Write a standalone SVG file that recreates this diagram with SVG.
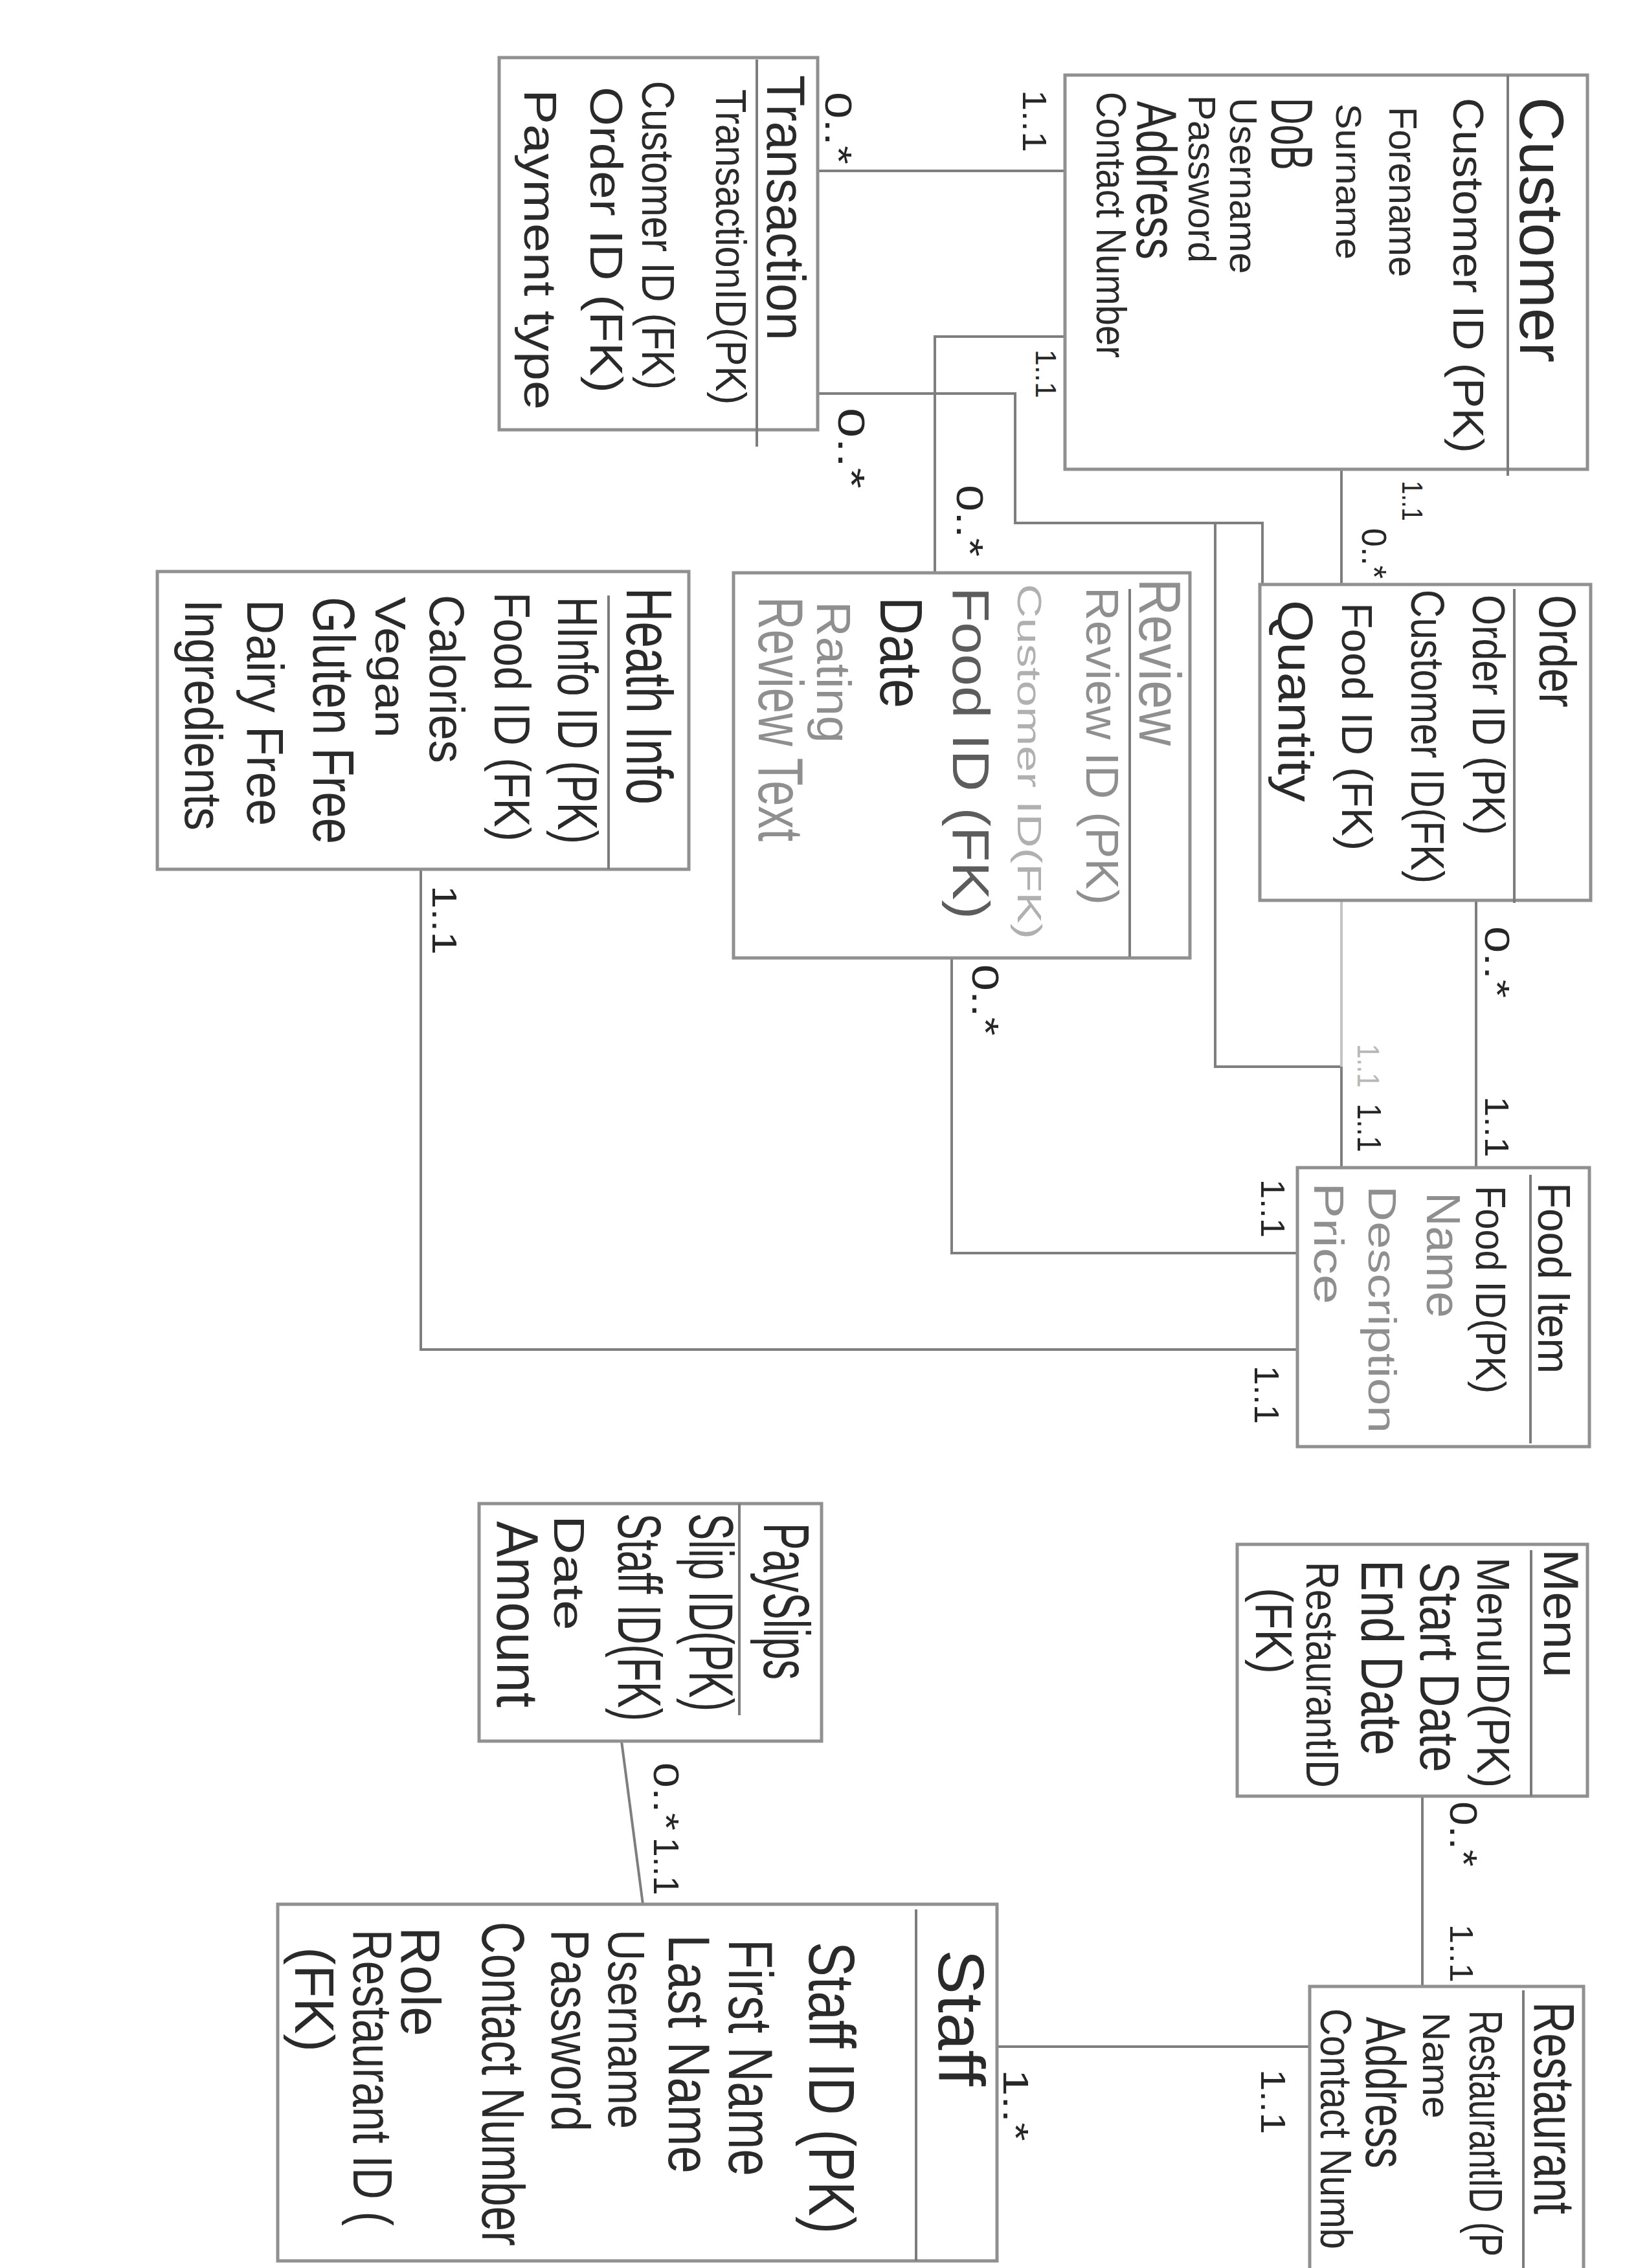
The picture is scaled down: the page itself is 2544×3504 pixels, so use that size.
<svg xmlns="http://www.w3.org/2000/svg" width="2544" height="3504" viewBox="0 0 2544 3504">
<style>
.box{fill:none;stroke:#909090;stroke-width:5}
.dv{fill:none;stroke:#7c7c7c;stroke-width:4}
.t{font-family:'Liberation Sans',Arial,sans-serif;fill:#2a2a2a}
.m{fill:#5c5c5c}
.l{fill:#8f8f8f}
.xl{fill:#b0b0b0}
.conn{fill:none;stroke:#7e7e7e;stroke-width:4}
.faint{stroke:#c4c4c4}
.card{font-family:'Liberation Sans',Arial,sans-serif;fill:#262626}
</style>
<rect width="2544" height="3504" fill="#ffffff"/>

<g id="connectors">
<path class="conn" d="M1263 264 H1645"/>
<path class="conn" d="M1263 608 H1568 V808 H1950 V903"/>
<path class="conn" d="M1877 808 V1648 H2072 V1804"/>
<path class="conn faint" d="M2072 1391 V1648"/>
<path class="conn" d="M1645 520 H1444 V885"/>
<path class="conn" d="M2072 725 V903"/>
<path class="conn" d="M2280 1391 V1804"/>
<path class="conn" d="M1470 1480 V1936 H2004"/>
<path class="conn" d="M650 1343 V2085 H2004"/>
<path class="conn" d="M2197 2775 V3069"/>
<path class="conn" d="M1540 3162 H2023"/>
<path class="conn" d="M960 2690 L993 2942"/>
<g class="card">
<text x="1275" y="142" transform="rotate(90 1275 142)" font-size="58" textLength="112" lengthAdjust="spacingAndGlyphs">0..*</text>
<text x="1580" y="139" transform="rotate(90 1580 139)" font-size="52" textLength="96" lengthAdjust="spacingAndGlyphs">1..1</text>
<text x="1295" y="630" transform="rotate(90 1295 630)" font-size="58" textLength="125" lengthAdjust="spacingAndGlyphs">0..*</text>
<text x="1600" y="540" transform="rotate(90 1600 540)" font-size="44" textLength="75" lengthAdjust="spacingAndGlyphs">1..1</text>
<text x="1478" y="749" transform="rotate(90 1478 749)" font-size="58" textLength="111" lengthAdjust="spacingAndGlyphs">0..*</text>
<text x="2166" y="743" transform="rotate(90 2166 743)" font-size="44" textLength="62" lengthAdjust="spacingAndGlyphs">1..1</text>
<text x="2104" y="816" transform="rotate(90 2104 816)" font-size="54" textLength="78" lengthAdjust="spacingAndGlyphs">0..*</text>
<text x="2294" y="1431" transform="rotate(90 2294 1431)" font-size="54" textLength="111" lengthAdjust="spacingAndGlyphs">0..*</text>
<text x="2294" y="1694" transform="rotate(90 2294 1694)" font-size="52" textLength="94" lengthAdjust="spacingAndGlyphs">1..1</text>
<text x="2097" y="1613" transform="rotate(90 2097 1613)" font-size="48" textLength="67" lengthAdjust="spacingAndGlyphs" fill="#b8b8b8">1..1</text>
<text x="2097" y="1705" transform="rotate(90 2097 1705)" font-size="52" textLength="75" lengthAdjust="spacingAndGlyphs">1..1</text>
<text x="1502" y="1490" transform="rotate(90 1502 1490)" font-size="58" textLength="110" lengthAdjust="spacingAndGlyphs">0..*</text>
<text x="1948" y="1822" transform="rotate(90 1948 1822)" font-size="52" textLength="90" lengthAdjust="spacingAndGlyphs">1..1</text>
<text x="668" y="1368" transform="rotate(90 668 1368)" font-size="54" textLength="107" lengthAdjust="spacingAndGlyphs">1..1</text>
<text x="1938" y="2110" transform="rotate(90 1938 2110)" font-size="54" textLength="90" lengthAdjust="spacingAndGlyphs">1..1</text>
<text x="2240" y="2783" transform="rotate(90 2240 2783)" font-size="60" textLength="101" lengthAdjust="spacingAndGlyphs">0..*</text>
<text x="2240" y="2973" transform="rotate(90 2240 2973)" font-size="50" textLength="90" lengthAdjust="spacingAndGlyphs">1..1</text>
<text x="1550" y="3197" transform="rotate(90 1550 3197)" font-size="56" textLength="111" lengthAdjust="spacingAndGlyphs">1..*</text>
<text x="1948" y="3197" transform="rotate(90 1948 3197)" font-size="54" textLength="100" lengthAdjust="spacingAndGlyphs">1..1</text>
<text x="1010" y="2723" transform="rotate(90 1010 2723)" font-size="56" textLength="105" lengthAdjust="spacingAndGlyphs">0..*</text>
<text x="1010" y="2839" transform="rotate(90 1010 2839)" font-size="56" textLength="89" lengthAdjust="spacingAndGlyphs">1..1</text>
</g>
</g>

<g id="transaction">
<rect class="box" x="771" y="89" width="492" height="575"/>
<line class="dv" x1="1169" y1="92" x2="1169" y2="690"/>
<g class="t">
<text x="1185" y="116" transform="rotate(90 1185 116)" font-size="84" textLength="410" lengthAdjust="spacingAndGlyphs">Transaction</text>
<text x="1106" y="138" transform="rotate(90 1106 138)" font-size="66" textLength="487" lengthAdjust="spacingAndGlyphs">TransactionID(PK)</text>
<text x="992" y="125" transform="rotate(90 992 125)" font-size="70" textLength="477" lengthAdjust="spacingAndGlyphs">Customer ID (FK)</text>
<text x="912" y="134" transform="rotate(90 912 134)" font-size="70" textLength="473" lengthAdjust="spacingAndGlyphs">Order ID (FK)</text>
<text x="810" y="138" transform="rotate(90 810 138)" font-size="70" textLength="495" lengthAdjust="spacingAndGlyphs">Payment type</text>
</g>
</g>

<g id="customer">
<rect class="box" x="1645" y="116" width="807" height="609"/>
<line class="dv" x1="2329" y1="116" x2="2329" y2="735"/>
<g class="t">
<text x="2348" y="150" transform="rotate(90 2348 150)" font-size="96" textLength="410" lengthAdjust="spacingAndGlyphs">Customer</text>
<text x="2245" y="151" transform="rotate(90 2245 151)" font-size="66" textLength="549" lengthAdjust="spacingAndGlyphs">Customer ID (PK)</text>
<text x="2146" y="165" transform="rotate(90 2146 165)" font-size="62" textLength="263" lengthAdjust="spacingAndGlyphs">Forename</text>
<text x="2064" y="160" transform="rotate(90 2064 160)" font-size="56" textLength="241" lengthAdjust="spacingAndGlyphs">Surname</text>
<text x="1964" y="151" transform="rotate(90 1964 151)" font-size="90" textLength="112" lengthAdjust="spacingAndGlyphs">DoB</text>
<text x="1900" y="151" transform="rotate(90 1900 151)" font-size="60" textLength="272" lengthAdjust="spacingAndGlyphs">Username</text>
<text x="1836" y="147" transform="rotate(90 1836 147)" font-size="60" textLength="259" lengthAdjust="spacingAndGlyphs">Password</text>
<text x="1756" y="156" transform="rotate(90 1756 156)" font-size="88" textLength="245" lengthAdjust="spacingAndGlyphs">Address</text>
<text x="1694" y="142" transform="rotate(90 1694 142)" font-size="64" textLength="411" lengthAdjust="spacingAndGlyphs">Contact Number</text>
</g>
</g>

<g id="order">
<rect class="box" x="1946" y="903" width="511" height="488"/>
<line class="dv" x1="2339" y1="910" x2="2339" y2="1395"/>
<g class="t">
<text x="2378" y="919" transform="rotate(90 2378 919)" font-size="80" textLength="174" lengthAdjust="spacingAndGlyphs">Order</text>
<text x="2275" y="919" transform="rotate(90 2275 919)" font-size="70" textLength="371" lengthAdjust="spacingAndGlyphs">Order ID (PK)</text>
<text x="2180" y="911" transform="rotate(90 2180 911)" font-size="72" textLength="454" lengthAdjust="spacingAndGlyphs">Customer ID(FK)</text>
<text x="2073" y="931" transform="rotate(90 2073 931)" font-size="66" textLength="383" lengthAdjust="spacingAndGlyphs">Food ID (FK)</text>
<text x="1975" y="927" transform="rotate(90 1975 927)" font-size="76" textLength="312" lengthAdjust="spacingAndGlyphs">Quantity</text>
</g>
</g>

<g id="review">
<rect class="box" x="1133" y="885" width="705" height="595"/>
<line class="dv" x1="1745" y1="910" x2="1745" y2="1478"/>
<g class="t">
<text class="l" x="1760" y="894" transform="rotate(90 1760 894)" font-size="90" textLength="258" lengthAdjust="spacingAndGlyphs">Review</text>
<text class="l" x="1678" y="907" transform="rotate(90 1678 907)" font-size="70" textLength="491" lengthAdjust="spacingAndGlyphs">Review ID (PK)</text>
<text class="xl" x="1572" y="902" transform="rotate(90 1572 902)" font-size="52" textLength="549" lengthAdjust="spacingAndGlyphs">Customer ID(FK)</text>
<text class="m" x="1472" y="907" transform="rotate(90 1472 907)" font-size="80" textLength="513" lengthAdjust="spacingAndGlyphs">Food ID (FK)</text>
<text x="1360" y="922" transform="rotate(90 1360 922)" font-size="92" textLength="172" lengthAdjust="spacingAndGlyphs">Date</text>
<text class="l" x="1262" y="929" transform="rotate(90 1262 929)" font-size="74" textLength="219" lengthAdjust="spacingAndGlyphs">Rating</text>
<text class="l" x="1172" y="922" transform="rotate(90 1172 922)" font-size="98" textLength="378" lengthAdjust="spacingAndGlyphs">Review Text</text>
</g>
</g>

<g id="heath-info">
<rect class="box" x="243" y="883" width="821" height="460"/>
<line class="dv" x1="940" y1="920" x2="940" y2="1343"/>
<g class="t">
<text x="968" y="908" transform="rotate(90 968 908)" font-size="100" textLength="335" lengthAdjust="spacingAndGlyphs">Heath Info</text>
<text x="862" y="922" transform="rotate(90 862 922)" font-size="88" textLength="382" lengthAdjust="spacingAndGlyphs">HInfo ID (PK)</text>
<text x="764" y="915" transform="rotate(90 764 915)" font-size="78" textLength="385" lengthAdjust="spacingAndGlyphs">Food ID (FK)</text>
<text x="664" y="919" transform="rotate(90 664 919)" font-size="76" textLength="260" lengthAdjust="spacingAndGlyphs">Calories</text>
<text x="580" y="922" transform="rotate(90 580 922)" font-size="66" textLength="218" lengthAdjust="spacingAndGlyphs">Vegan</text>
<text x="484" y="922" transform="rotate(90 484 922)" font-size="90" textLength="382" lengthAdjust="spacingAndGlyphs">Gluten Free</text>
<text x="382" y="926" transform="rotate(90 382 926)" font-size="80" textLength="350" lengthAdjust="spacingAndGlyphs">Dairy Free</text>
<text x="286" y="926" transform="rotate(90 286 926)" font-size="82" textLength="357" lengthAdjust="spacingAndGlyphs">Ingredients</text>
</g>
</g>

<g id="food-item">
<rect class="box" x="2004" y="1804" width="451" height="431"/>
<line class="dv" x1="2364" y1="1815" x2="2364" y2="2230"/>
<g class="t">
<text x="2376" y="1827" transform="rotate(90 2376 1827)" font-size="70" textLength="295" lengthAdjust="spacingAndGlyphs">Food Item</text>
<text x="2280" y="1832" transform="rotate(90 2280 1832)" font-size="64" textLength="321" lengthAdjust="spacingAndGlyphs">Food ID(PK)</text>
<text class="l" x="2204" y="1842" transform="rotate(90 2204 1842)" font-size="74" textLength="194" lengthAdjust="spacingAndGlyphs">Name</text>
<text class="l" x="2114" y="1832" transform="rotate(90 2114 1832)" font-size="62" textLength="382" lengthAdjust="spacingAndGlyphs">Description</text>
<text class="l" x="2030" y="1827" transform="rotate(90 2030 1827)" font-size="64" textLength="188" lengthAdjust="spacingAndGlyphs">Price</text>
</g>
</g>

<g id="menu">
<rect class="box" x="1911" y="2386" width="541" height="389"/>
<line class="dv" x1="2365" y1="2395" x2="2365" y2="2775"/>
<g class="t">
<text x="2385" y="2393" transform="rotate(90 2385 2393)" font-size="76" textLength="199" lengthAdjust="spacingAndGlyphs">Menu</text>
<text x="2282" y="2406" transform="rotate(90 2282 2406)" font-size="70" textLength="356" lengthAdjust="spacingAndGlyphs">MenuID(PK)</text>
<text x="2194" y="2413" transform="rotate(90 2194 2413)" font-size="86" textLength="325" lengthAdjust="spacingAndGlyphs">Start Date</text>
<text x="2103" y="2410" transform="rotate(90 2103 2410)" font-size="90" textLength="302" lengthAdjust="spacingAndGlyphs">End Date</text>
<text x="2018" y="2413" transform="rotate(90 2018 2413)" font-size="70" textLength="349" lengthAdjust="spacingAndGlyphs">RestaurantID</text>
<text x="1940" y="2453" transform="rotate(90 1940 2453)" font-size="80" textLength="133" lengthAdjust="spacingAndGlyphs">(FK)</text>
</g>
</g>

<g id="restaurant">
<path class="box" d="M2023 3504 V3069 H2446 V3504"/>
<line class="dv" x1="2353" y1="3075" x2="2353" y2="3504"/>
<g class="t">
<text transform="translate(2370 3093) rotate(90) scale(1 1.15)" x="0" y="0" font-size="78" textLength="328" lengthAdjust="spacingAndGlyphs">Restaurant</text>
<text transform="translate(2270 3106) rotate(90) scale(1 1.4)" x="0" y="0" font-size="52" textLength="380" lengthAdjust="spacingAndGlyphs">RestaurantID (P</text>
<text x="2198" y="3109" transform="rotate(90 2198 3109)" font-size="60" textLength="164" lengthAdjust="spacingAndGlyphs">Name</text>
<text x="2110" y="3116" transform="rotate(90 2110 3116)" font-size="88" textLength="234" lengthAdjust="spacingAndGlyphs">Address</text>
<text transform="translate(2040 3103) rotate(90) scale(1 1.2)" x="0" y="0" font-size="57" textLength="372" lengthAdjust="spacingAndGlyphs">Contact Numb</text>
</g>
</g>

<g id="staff">
<rect class="box" x="429" y="2942" width="1111" height="551"/>
<line class="dv" x1="1415" y1="2950" x2="1415" y2="3493"/>
<g class="t">
<text x="1450" y="3012" transform="rotate(90 1450 3012)" font-size="100" textLength="211" lengthAdjust="spacingAndGlyphs">Staff</text>
<text transform="translate(1250 3000) rotate(90) scale(1 1.3)" x="0" y="0" font-size="77" textLength="451" lengthAdjust="spacingAndGlyphs">Staff ID (PK)</text>
<text x="1126" y="2996" transform="rotate(90 1126 2996)" font-size="96" textLength="366" lengthAdjust="spacingAndGlyphs">First Name</text>
<text x="1033" y="2989" transform="rotate(90 1033 2989)" font-size="90" textLength="369" lengthAdjust="spacingAndGlyphs">Last Name</text>
<text x="940" y="2981" transform="rotate(90 940 2981)" font-size="80" textLength="308" lengthAdjust="spacingAndGlyphs">Username</text>
<text x="852" y="2981" transform="rotate(90 852 2981)" font-size="84" textLength="312" lengthAdjust="spacingAndGlyphs">Password</text>
<text transform="translate(745 2969) rotate(90) scale(1 1.35)" x="0" y="0" font-size="68" textLength="501" lengthAdjust="spacingAndGlyphs">Contact Number</text>
<text x="620" y="2977" transform="rotate(90 620 2977)" font-size="86" textLength="169" lengthAdjust="spacingAndGlyphs">Role</text>
<text transform="translate(546 2981) rotate(90) scale(1 1.28)" x="0" y="0" font-size="67" textLength="458" lengthAdjust="spacingAndGlyphs">Restaurant ID (</text>
<text x="456" y="3008" transform="rotate(90 456 3008)" font-size="86" textLength="162" lengthAdjust="spacingAndGlyphs">(FK)</text>
</g>
</g>

<g id="payslips">
<rect class="box" x="740" y="2323" width="529" height="367"/>
<line class="dv" x1="1142" y1="2323" x2="1142" y2="2650"/>
<g class="t">
<text x="1180" y="2353" transform="rotate(90 1180 2353)" font-size="100" textLength="242" lengthAdjust="spacingAndGlyphs">PaySlips</text>
<text x="1065" y="2338" transform="rotate(90 1065 2338)" font-size="96" textLength="306" lengthAdjust="spacingAndGlyphs">Slip ID(PK)</text>
<text x="955" y="2338" transform="rotate(90 955 2338)" font-size="94" textLength="321" lengthAdjust="spacingAndGlyphs">Staff ID(FK)</text>
<text x="856" y="2341" transform="rotate(90 856 2341)" font-size="66" textLength="178" lengthAdjust="spacingAndGlyphs">Date</text>
<text x="768" y="2350" transform="rotate(90 768 2350)" font-size="90" textLength="288" lengthAdjust="spacingAndGlyphs">Amount</text>
</g>
</g>
</svg>
